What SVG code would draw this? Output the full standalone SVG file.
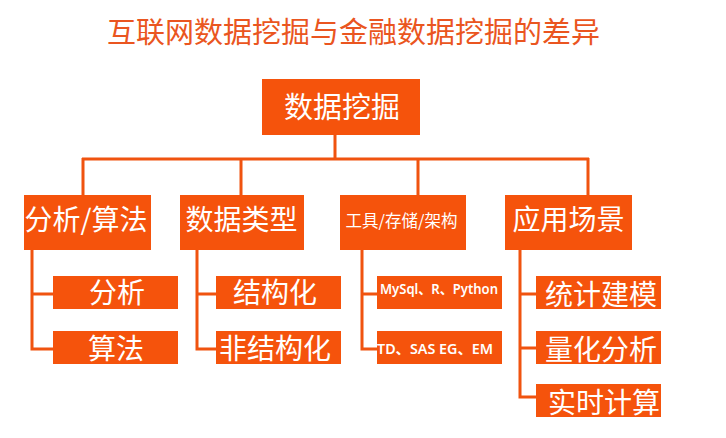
<svg xmlns="http://www.w3.org/2000/svg" width="726" height="438" viewBox="0 0 726 438">
<style>
.box{fill:#F5530C}
.t{fill:#FFFFFF;font-family:"Noto Sans CJK SC","Noto Sans",sans-serif;text-anchor:middle}
.big{font-size:28px}
.lat{font-family:"Noto Sans","Noto Sans CJK SC",sans-serif;font-weight:600;font-size:14px}
.ln{fill:none;stroke:#F0530F;stroke-width:3}
.title{fill:#EA5520;font-family:"Noto Sans CJK SC",sans-serif;font-size:29px;text-anchor:middle}
</style>
<rect width="726" height="438" fill="#FFFFFF"/>
<text class="title" x="353.5" y="43">互联网数据挖掘与金融数据挖掘的差异</text>
<g id="connectors">
<path class="ln" d="M335,135V159M82,159H589M83,158V195M241,158V195M418,158V195M588,158V195"/>
<path class="ln" d="M32,250V349H53M32,294H53"/>
<path class="ln" d="M197,250V349H216M197,294H216"/>
<path class="ln" d="M362,250V349H377M362,294H377"/>
<path class="ln" d="M520,250V397H536M520,294H536M520,348H536"/>
</g>
<g id="root"><rect class="box" x="262" y="79" width="158" height="56"/><text class="t" x="342" y="118" font-size="29">数据挖掘</text></g>
<g id="n-analysis"><rect class="box" x="24" y="195" width="127" height="55"/><text class="t big" x="86" y="230">分析/算法</text></g>
<g id="n-datatype"><rect class="box" x="180" y="195" width="124" height="55"/><text class="t big" x="241.5" y="230">数据类型</text></g>
<g id="n-tools"><rect class="box" x="340" y="195" width="126" height="55"/><text class="t" x="401.5" y="227" font-size="16.5">工具/存储/架构</text></g>
<g id="n-app"><rect class="box" x="505" y="195" width="127" height="55"/><text class="t big" x="568.5" y="230">应用场景</text></g>
<g id="n-fenxi"><rect class="box" x="53" y="276" width="125" height="33"/><text class="t big" x="117" y="303">分析</text></g>
<g id="n-suanfa"><rect class="box" x="53" y="331" width="125" height="33"/><text class="t big" x="116" y="359">算法</text></g>
<g id="n-struct"><rect class="box" x="216" y="276" width="125" height="33"/><text class="t big" x="275" y="303">结构化</text></g>
<g id="n-unstruct"><rect class="box" x="216" y="331" width="125" height="33"/><text class="t big" x="275" y="359">非结构化</text></g>
<g id="n-mysql"><rect class="box" x="377" y="276" width="125" height="33"/><text class="t lat" x="439" y="294" textLength="118" lengthAdjust="spacingAndGlyphs">MySql、R、Python</text></g>
<g id="n-td"><rect class="box" x="377" y="331" width="125" height="33"/><text class="t lat" x="435" y="354" textLength="116" lengthAdjust="spacingAndGlyphs">TD、SAS EG、EM</text></g>
<g id="n-stat"><rect class="box" x="536" y="276" width="125" height="33"/><text class="t big" x="601" y="305">统计建模</text></g>
<g id="n-quant"><rect class="box" x="536" y="331" width="125" height="33"/><text class="t big" x="601" y="360">量化分析</text></g>
<g id="n-realtime"><rect class="box" x="536" y="384" width="125" height="33"/><text class="t big" x="604" y="413">实时计算</text></g>
</svg>
